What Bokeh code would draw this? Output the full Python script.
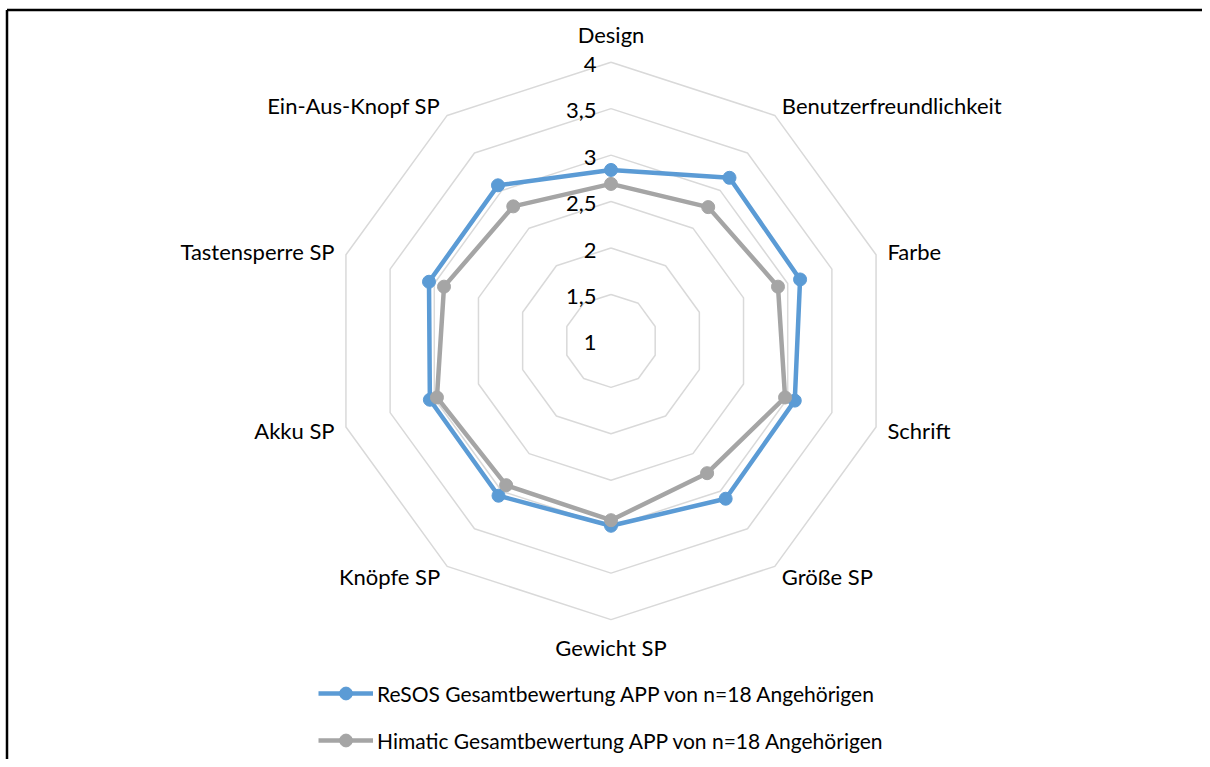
import numpy as np
from bokeh.plotting import figure
from bokeh.models import Range1d, Legend, LegendItem, ColumnDataSource
from bokeh.core.properties import value
from bokeh.embed import file_html
from bokeh.resources import INLINE

# ---- data ----
categories = ["Design", "Benutzerfreundlichkeit", "Farbe", "Schrift", "Größe SP",
              "Gewicht SP", "Knöpfe SP", "Akku SP", "Tastensperre SP", "Ein-Aus-Knopf SP"]
resos = [2.84, 3.17, 3.14, 3.08, 3.10, 2.99, 3.06, 3.05, 3.06, 3.07]
himatic = [2.69, 2.78, 2.89, 2.97, 2.76, 2.93, 2.92, 2.97, 2.89, 2.79]
grid_levels = [1, 1.5, 2, 2.5, 3, 3.5, 4]
tick_labels = ["1", "1,5", "2", "2,5", "3", "3,5", "4"]
series_names = ["ReSOS Gesamtbewertung APP von n=18 Angehörigen",
                "Himatic Gesamtbewertung APP von n=18 Angehörigen"]

# ---- layout ----
W, H = 1202, 759
CX, CY = 610.5, 340.4      # chart centre in figure pixels from top-left
R = 278.7                  # radius of the outer (value 4) ring
VMIN, VMAX = 1.0, 4.0
FONT = "Lato"
FS = "22px"

p = figure(width=W, height=H, output_backend="svg", toolbar_location=None,
           x_range=Range1d(-CX, W - CX), y_range=Range1d(CY - H, CY),
           min_border=0, outline_line_color=None)
p.axis.visible = False
p.grid.visible = False
p.background_fill_color = "white"
p.border_fill_color = "white"

n = len(categories)
ang = np.arange(n) * 2 * np.pi / n


def rad(v):
    return (np.asarray(v, dtype=float) - VMIN) / (VMAX - VMIN) * R


def closed_xy(vals):
    r = rad(vals)
    x = r * np.sin(ang)
    y = r * np.cos(ang)
    return np.append(x, x[0]), np.append(y, y[0])


# grid polygons
for lv in grid_levels[1:]:
    gx, gy = closed_xy([lv] * n)
    p.line(gx, gy, line_color="#D9D9D9", line_width=1.5)

# tick labels along the top axis
p.text(x=[-14.5] * len(grid_levels), y=list(rad(grid_levels)), text=tick_labels,
       text_font=value(FONT), text_font_size=FS, text_color="#000000",
       text_align="right", text_baseline="middle", y_offset=2)

# category labels
rv = np.full(n, R)
vx = rv * np.sin(ang)
vy = rv * np.cos(ang)
aligns = ["left" if s > 0.1 else ("right" if s < -0.1 else "center") for s in np.sin(ang)]
xo = list(12 * np.sin(ang))
yo = [(-12 * c) + (-16 if c > 0.9 else (16 if c < -0.9 else 0)) for c in np.cos(ang)]
src = ColumnDataSource(dict(x=vx, y=vy, t=categories, a=aligns, xo=xo, yo=yo))
p.text(x="x", y="y", text="t", text_align="a", x_offset="xo", y_offset="yo",
       source=src, text_font=value(FONT), text_font_size=FS, text_color="#000000",
       text_baseline="middle")

# series
colors = ["#5B9BD5", "#A5A5A5"]
items = []
for vals, col, name in zip([resos, himatic], colors, series_names):
    sx, sy = closed_xy(vals)
    l = p.line(sx, sy, line_color=col, line_width=4.5, line_join="round")
    s = p.scatter(sx[:-1], sy[:-1], size=13, fill_color=col, line_color=col)
    items.append(LegendItem(label=name, renderers=[l, s]))

legend = Legend(items=items, location=(318, 3), orientation="vertical",
                glyph_width=55, glyph_height=32, label_height=32, spacing=15,
                padding=0, margin=0,
                label_standoff=4, label_text_font=FONT, label_text_font_size="21px",
                label_text_color="#000000", border_line_color=None,
                background_fill_alpha=0)
p.add_layout(legend, "center")

# chart frame (left and top edges visible)
x0, x1 = p.x_range.start, p.x_range.end
y0, y1 = p.y_range.start, p.y_range.end
p.segment(x0=[x0 + 6.5, x0 + 6.5], y0=[y1 - 9.5, y1 - 9.5], x1=[x0 + 6.5, x1], y1=[y0, y1 - 9.5],
          line_color="black", line_width=2.5)

open("out.html", "w").write(file_html(p, INLINE))
